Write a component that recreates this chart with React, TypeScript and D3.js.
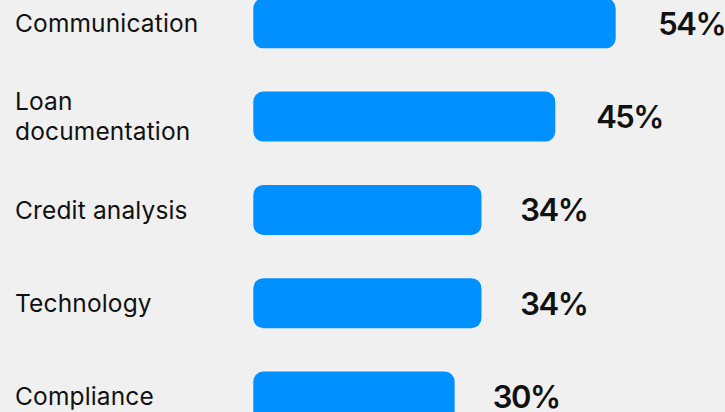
import React from "react";
import * as d3 from "d3";

const categories: string[][] = [
  ["Communication"],
  ["Loan", "documentation"],
  ["Credit analysis"],
  ["Technology"],
  ["Compliance"],
];
const values: number[] = [54, 45, 34, 34, 30];

const W = 725;
const H = 412;

export default function App() {
  const ids = categories.map((_, i) => String(i));
  const y = d3
    .scaleBand<string>()
    .domain(ids)
    .range([-1.7, 421.5])
    .paddingInner(0.464)
    .paddingOuter(0);
  const x = d3.scaleLinear().domain([0, 54]).range([253.3, 615.7]);
  const labelX = d3.scaleLinear().domain([0, 54]).range([285.7, 658.3]);
  const bw = y.bandwidth();
  const lineH = 30;

  return (
    <svg
      width={W}
      height={H}
      style={{ position: "absolute", left: 0, top: 0, background: "#f0f0f0" }}
      fontFamily="Inter, 'Noto Sans', sans-serif"
    >
      <rect x={0} y={0} width={W} height={H} fill="#f0f0f0" />
      {values.map((v, i) => {
        const y0 = y(String(i))!;
        const cy = y0 + bw / 2;
        const lines = categories[i];
        const firstBase = cy + 8.8 - ((lines.length - 1) * lineH) / 2;
        return (
          <g key={i}>
            <rect
              x={x(0)}
              y={y0}
              width={x(v) - x(0)}
              height={bw}
              rx={10}
              ry={10}
              fill="#0090ff"
            />
            <text x={15} fontSize={24.5} letterSpacing={0.15} fill="#111">
              {lines.map((l, j) => (
                <tspan key={j} x={15} y={firstBase + j * lineH}>
                  {l}
                </tspan>
              ))}
            </text>
            <text
              x={labelX(v)}
              y={cy + 11.5}
              fontSize={31}
              fontWeight={600}
              letterSpacing={-1.5}
              fill="#111"
            >
              {v}%
            </text>
          </g>
        );
      })}
    </svg>
  );
}
